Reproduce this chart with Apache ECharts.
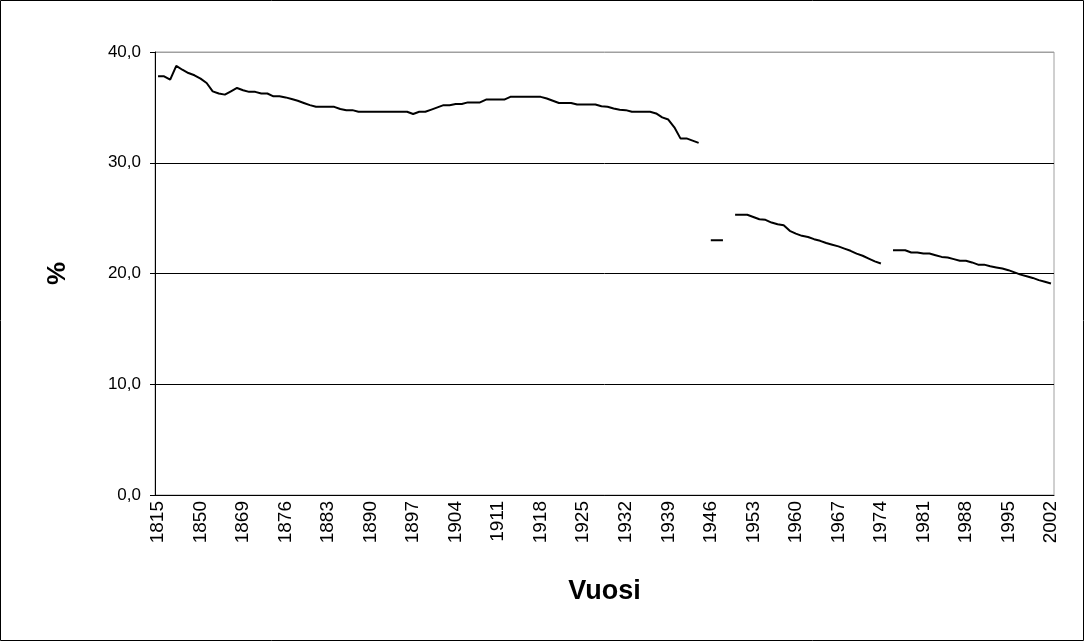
<!DOCTYPE html>
<html>
<head>
<meta charset="utf-8">
<script src="https://cdn.jsdelivr.net/npm/echarts@6/dist/echarts.min.js"></script>
<style>
  html, body { margin: 0; padding: 0; background: #fff; }
  #chart { width: 1085px; height: 642px; }
</style>
</head>
<body>
<div id="chart"></div>
<script>
// vuodet (x-akseli)
const years = [
  '1815', '1820', '1825', '1830', '1835', '1840', '1845', '1850', '1855', '1860', '1865', '1866', '1867', '1868',
  '1869', '1870', '1871', '1872', '1873', '1874', '1875', '1876', '1877', '1878', '1879', '1880',
  '1881', '1882', '1883', '1884', '1885', '1886', '1887', '1888', '1889', '1890', '1891', '1892',
  '1893', '1894', '1895', '1896', '1897', '1898', '1899', '1900', '1901', '1902', '1903', '1904',
  '1905', '1906', '1907', '1908', '1909', '1910', '1911', '1912', '1913', '1914', '1915', '1916',
  '1917', '1918', '1919', '1920', '1921', '1922', '1923', '1924', '1925', '1926', '1927', '1928',
  '1929', '1930', '1931', '1932', '1933', '1934', '1935', '1936', '1937', '1938', '1939', '1940',
  '1941', '1942', '1943', '1944', '1945', '1946', '1947', '1948', '1949', '1950', '1951', '1952',
  '1953', '1954', '1955', '1956', '1957', '1958', '1959', '1960', '1961', '1962', '1963', '1964',
  '1965', '1966', '1967', '1968', '1969', '1970', '1971', '1972', '1973', '1974', '1975', '1976',
  '1977', '1978', '1979', '1980', '1981', '1982', '1983', '1984', '1985', '1986', '1987', '1988',
  '1989', '1990', '1991', '1992', '1993', '1994', '1995', '1996', '1997', '1998', '1999', '2000',
  '2001', '2002'
]

// osuus, % (null = puuttuva tieto)
const share = [
  37.8, 37.8, 37.5, 38.75, 38.4, 38.1, 37.9, 37.6, 37.2, 36.45, 36.25, 36.15, 36.45, 36.75,
  36.55, 36.4, 36.4, 36.25, 36.25, 36.0, 36.0, 35.9, 35.75, 35.6, 35.4, 35.2,
  35.05, 35.05, 35.05, 35.05, 34.85, 34.75, 34.75, 34.6, 34.6, 34.6, 34.6, 34.6,
  34.6, 34.6, 34.6, 34.6, 34.4, 34.6, 34.6, 34.8, 35.0, 35.2, 35.2, 35.3,
  35.3, 35.45, 35.45, 35.45, 35.7, 35.7, 35.7, 35.7, 35.95, 35.95, 35.95, 35.95,
  35.95, 35.95, 35.8, 35.6, 35.4, 35.4, 35.4, 35.26, 35.26, 35.26, 35.26, 35.1,
  35.05, 34.9, 34.78, 34.75, 34.6, 34.6, 34.6, 34.6, 34.45, 34.1, 33.9, 33.2,
  32.2, 32.2, 32.0, 31.8, null, 23.0, 23.0, 23.0, null, 25.3, 25.3, 25.3,
  25.1, 24.9, 24.85, 24.6, 24.45, 24.35, 23.85, 23.6, 23.4, 23.3, 23.1, 22.95,
  22.75, 22.6, 22.45, 22.25, 22.05, 21.8, 21.6, 21.35, 21.1, 20.9, null, 22.1,
  22.1, 22.1, 21.9, 21.9, 21.8, 21.8, 21.65, 21.5, 21.45, 21.3, 21.15, 21.15,
  21.0, 20.8, 20.8, 20.65, 20.55, 20.45, 20.3, 20.1, 19.9, 19.75, 19.6, 19.4,
  19.25, 19.1
]

const font = 'Liberation Sans, Arial, sans-serif'
const chart = echarts.init(document.getElementById('chart'))

chart.setOption({
  animation: false,
  backgroundColor: '#fff',
  graphic: [{
    type: 'rect',
    shape: { x: 0.5, y: 0.5, width: 1083, height: 640 },
    style: { fill: 'none', stroke: '#000', lineWidth: 1 }
  }],
  grid: {
    left: 155,
    right: 31,
    top: 52,
    bottom: 147,
    show: true,
    borderColor: '#a0a0a0',
    borderWidth: 1
  },
  xAxis: {
    type: 'category',
    data: years,
    boundaryGap: true,
    name: 'Vuosi',
    nameLocation: 'middle',
    nameGap: 83,
    nameTextStyle: { fontFamily: font, fontSize: 27, fontWeight: 'bold', color: '#000' },
    axisLine: { lineStyle: { color: '#000', width: 1 } },
    axisTick: { interval: 0, length: 5, lineStyle: { color: '#000' } },
    axisLabel: {
      interval: 6,
      rotate: 90,
      margin: 6,
      fontFamily: font,
      fontSize: 19,
      color: '#000'
    },
    splitLine: { show: false }
  },
  yAxis: {
    type: 'value',
    min: 0,
    max: 40,
    interval: 10,
    name: '%',
    nameLocation: 'middle',
    nameGap: 84,
    nameRotate: 90,
    nameTextStyle: { fontFamily: font, fontSize: 26, fontWeight: 'bold', color: '#000' },
    axisLine: { show: true, lineStyle: { color: '#000', width: 1 } },
    axisTick: { show: true, length: 5, lineStyle: { color: '#000' } },
    axisLabel: {
      fontFamily: font,
      fontSize: 17,
      color: '#000',
      margin: 14,
      formatter: v => v.toFixed(1).replace('.', ',')
    },
    splitLine: {
      lineStyle: { color: ['#000', '#000', '#000', '#000', '#a0a0a0'], width: 1 }
    }
  },
  series: [{
    type: 'line',
    data: share,
    symbol: 'none',
    connectNulls: false,
    lineStyle: { color: '#000', width: 2 }
  }]
})
</script>
</body>
</html>
